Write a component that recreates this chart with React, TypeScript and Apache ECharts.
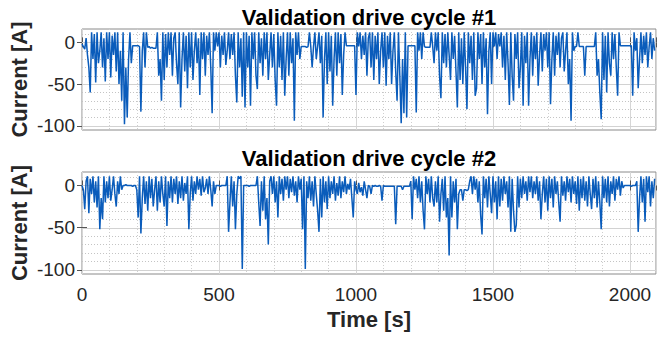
import React, { useEffect, useRef } from "react";
import * as echarts from "echarts";

// Sample period of the hand-read traces (seconds between samples)
const SAMPLE_PERIOD_S = 5;

// Validation drive cycle #1 current [A], one value every 5 s from t = 0
const current1 = [
  -2, -5, -8, 5, -15, -30, -60, 12, -20, 10, -48, 12, -25, -10, 12, -30, 5, -47, 12, -20,
  12, -42, 8, -15, 12, -35, 12, -50, -10, -70, 12, -98, -30, -90, -20, 12, -25, -4, -4, -4,
  -4, -4, -5, -83, -10, 12, -30, 12, -6, -5, -7, -6, -7, -7, -7, 12, -40, -20, -70, 12,
  -45, 10, -30, 12, -15, 12, -40, 5, 12, -25, -50, 12, -78, -20, 12, -35, 8, -55, 12, -30,
  12, -45, -10, 12, -25, 5, -63, 12, -20, 12, -40, 8, -15, 12, -30, -85, 12, -10, 12, -5,
  12, -30, 8, -15, 12, -27, -10, 12, -20, 10, -15, 12, -40, -72, 12, -30, 5, -65, 12, -78,
  12, -30, 8, -76, 12, -20, 12, -40, -56, 12, -25, 5, -40, 12, -20, 12, -45, -15, 12, -30,
  10, -45, -76, 12, -30, 8, -45, 12, -64, -20, 12, -40, 12, -25, 5, -94, 12, -15, 12, -20,
  -5, -5, -5, -5, -6, -5, 12, -5, -30, -5, 12, -20, -5, 12, -25, 8, -90, -20, 12, -50,
  12, -35, 8, -76, -20, 12, -40, 12, -25, 10, -63, -15, 12, -4, -4, -4, -4, -4, -4, -4,
  -63, 12, -5, 12, -20, 8, -15, 12, -40, 5, 12, -30, 12, -45, 8, -20, 12, -50, -10, 12,
  -30, 12, -52, 8, -20, 12, -50, -10, 12, -35, -70, 12, -40, -97, -20, -85, 12, -90, -4, -4,
  -4, -4, -4, -4, -84, 12, -10, 12, -20, 12, -5, -6, -6, -6, -6, 12, -5, -25, 12, -10,
  12, -40, -67, 12, -25, 10, -30, 12, -15, -45, 12, -20, 8, -35, -78, 12, -45, 5, -50, 12,
  -30, -80, 12, -25, 8, -45, 12, -64, -55, 12, -20, 10, -50, 12, -30, 5, -86, -10, 12, -50,
  12, -5, 12, -20, 10, -5, 12, -30, 8, -45, 12, -25, -75, 12, -40, -70, 10, -20, 12, -55,
  -30, 12, -76, 8, -25, 12, -76, -20, 12, -40, 8, -20, 12, -52, -15, 12, -35, 10, -10, 12,
  -30, 12, -74, -20, 12, -40, 8, -15, 12, -30, 5, 12, -35, -10, 12, -50, -20, -94, 12, -10,
  -5, -5, 12, -5, -5, -5, -5, -40, -5, -5, -5, -5, -5, -5, -5, 12, -40, -20, -60, -92,
  12, -45, 8, -60, 12, -25, -40, 12, -20, 10, -30, -64, 12, -4, -4, -4, -4, -4, -4, -4,
  -4, -4, -64, 12, -10, 5, -55, -20, 12, -25, 8, -15, 12, -30, -5, 12, -20, 5, -10,
];

// Validation drive cycle #2 current [A], one value every 5 s from t = 0
const current2 = [
  0, -5, -28, 5, 11, -33, 8, -10, 11, -20, 5, -26, 11, -52, -15, -40, 11, -20, 5, -15,
  11, -18, -5, 11, -10, -25, 5, -10, 11, -5, 0, 0, 1, 0, 0, 0, 0, -1, 0, 0,
  -5, -38, 11, -57, -15, 11, -22, 5, -30, 11, -15, 8, -25, -5, 11, -30, 5, -20, 11, -10,
  -25, 11, -48, 5, -15, 11, -20, 8, -10, 11, -22, 5, -15, 11, -18, 3, -10, 11, -52, -10,
  11, -18, 5, -10, 11, -5, 8, -12, 11, -8, -3, 8, -10, 11, -5, -25, 5, -10, 0, 0,
  0, -1, 0, 0, 0, 0, 11, -55, -20, 11, -25, 5, -52, -10, 11, 8, 11, -99, 0, 0,
  0, 0, -1, 0, 0, 0, 0, 0, 11, -20, -48, 5, -30, 11, -40, -15, -70, 5, 11, -10,
  11, -20, 5, -38, 11, -10, 8, -18, 11, -5, 11, -15, 8, -8, 11, -12, 5, -20, 11, -5,
  8, -52, 11, -99, 5, -15, 11, -18, 5, -25, 11, -10, -30, -55, 8, -38, 11, -20, 5, -28,
  11, -15, 5, -10, 11, -18, 3, -12, 11, -15, 5, -8, 11, -10, 2, -5, 8, -15, -38, 5,
  -5, -10, 3, -8, -2, -12, 5, -5, -15, 0, -1, -10, 0, -1, 0, -1, -1, 0, -1, -18,
  0, -1, -1, -1, -1, -1, -1, -1, -1, -46, -1, -1, -1, -1, -5, -1, -1, -1, -1, -1,
  5, -40, 11, -5, 8, -15, 11, -20, 5, -30, -52, 11, -10, 8, -20, 11, -15, -25, 5, -20,
  11, -43, -10, 8, -30, 11, -38, -15, -83, 11, -38, 5, -20, 8, -52, -10, -5, -5, -18, -5,
  -5, -6, -5, 5, 11, -10, 11, -5, 8, -20, 5, -35, -58, 11, -15, 8, -26, 11, -10, -33,
  11, -20, 5, -40, 11, -25, 8, -18, 11, -10, 5, -26, 11, -55, 8, -30, -55, -47, 11, -26,
  8, -15, 11, -10, 5, -18, 11, -8, 11, -15, 5, -10, 11, -18, 5, -40, -10, 11, -20, 8,
  -30, 11, -15, 8, -26, 11, -10, 5, -20, -43, 11, -12, 5, -18, 11, -8, 8, -20, 11, -10,
  5, -22, 11, -30, 8, -15, 11, -18, 5, -25, 11, -10, -28, 8, -15, 11, -26, 5, -20, -52,
  11, -15, 8, -20, 11, -25, 5, -10, 11, -18, 8, -5, 11, -12, 5, -3, 0, 0, 0, 0,
  0, -1, 0, 0, 0, 5, -55, -15, 11, -20, 8, -43, 11, -8, 11, -25, 5, -15, 8,
];

const titles = ["Validation drive cycle #1", "Validation drive cycle #2"];
const yLabel = "Current [A]";
const xLabel = "Time [s]";
const yTickValues = [0, -50, -100];
const yGridValues = [10, 0, -10, -20, -30, -40, -50, -60, -70, -80, -90, -100];
const yMajorGrid = [0, -50, -100];
const X_MIN = 0;
const X_MAX = 2095;
const X_INTERVAL = 500;
const Y_MIN = -105;
const Y_MAX = 16;

const FONT = "'Liberation Sans', Arial, Helvetica, sans-serif";
const LINE_COLOR = "#0a5cbb";
const TEXT_COLOR = "#262626";

const GRIDS = [
  { left: 82, top: 29, width: 574, height: 101 },
  { left: 82, top: 172, width: 574, height: 102 },
];

export default function App() {
  const ref = useRef<HTMLDivElement>(null);

  useEffect(() => {
    if (!ref.current) return;
    const chart = echarts.init(ref.current, null, { renderer: "svg" });

    const series: any[] = [];
    const xAxes: any[] = [];
    const yAxes: any[] = [];
    const traces = [current1, current2];

    GRIDS.forEach((g, i) => {
      xAxes.push({
        type: "value",
        gridIndex: i,
        min: X_MIN,
        max: X_MAX,
        interval: X_INTERVAL,
        position: "bottom",
        axisLine: { show: false },
        axisTick: { show: true, inside: true, length: 5, lineStyle: { color: "#555" } },
        axisLabel: {
          show: i === 1,
          fontSize: 19,
          color: TEXT_COLOR,
          fontFamily: FONT,
          margin: 11,
          showMaxLabel: false,
          formatter: (v: number) => String(v),
        },
        splitLine: { show: true, lineStyle: { color: "#d6d6d6", width: 1 } },
        minorTick: { show: false, splitNumber: 5 },
        minorSplitLine: { show: true, lineStyle: { color: "#cfcfcf", width: 1, type: [1, 2] } },
      });
      xAxes.push({
        type: "value",
        gridIndex: i,
        min: X_MIN,
        max: X_MAX,
        interval: X_INTERVAL,
        position: "top",
        axisLine: { show: false },
        axisTick: { show: true, inside: true, length: 5, lineStyle: { color: "#555" } },
        axisLabel: { show: false },
        splitLine: { show: false },
      });
      yAxes.push({
        type: "value",
        gridIndex: i,
        min: Y_MIN,
        max: Y_MAX,
        position: "left",
        axisLine: { show: false },
        axisTick: {
          show: true,
          inside: true,
          length: 5,
          customValues: yTickValues,
          lineStyle: { color: "#555" },
        },
        axisLabel: {
          show: true,
          customValues: yTickValues,
          fontSize: 19,
          color: TEXT_COLOR,
          fontFamily: FONT,
          margin: 7,
          formatter: (v: number) => String(v),
        },
        splitLine: { show: false },
      });
      yAxes.push({
        type: "value",
        gridIndex: i,
        min: Y_MIN,
        max: Y_MAX,
        position: "right",
        axisLine: { show: false },
        axisTick: {
          show: true,
          inside: true,
          length: 5,
          customValues: yTickValues,
          lineStyle: { color: "#555" },
        },
        axisLabel: { show: false, customValues: yTickValues },
        splitLine: { show: false },
      });

      series.push({
        type: "custom",
        xAxisIndex: i * 2,
        yAxisIndex: i * 2,
        z: 1,
        silent: true,
        data: yGridValues.map((v) => [X_MIN, v]),
        renderItem: (params: any, api: any) => {
          const cs = params.coordSys;
          const v = api.value(1);
          const y = Math.round(api.coord([X_MIN, v])[1]) + 0.5;
          const major = yMajorGrid.indexOf(v) >= 0;
          return {
            type: "line",
            shape: { x1: cs.x, y1: y, x2: cs.x + cs.width, y2: y },
            style: major
              ? { stroke: "#d2d2d2", lineWidth: 1 }
              : { stroke: "#c4c4c4", lineWidth: 1, lineDash: [1, 2] },
          };
        },
      });

      series.push({
        type: "line",
        xAxisIndex: i * 2,
        yAxisIndex: i * 2,
        z: 3,
        showSymbol: false,
        symbol: "none",
        lineStyle: { color: LINE_COLOR, width: 1.5 },
        data: traces[i].map((v, k) => [k * SAMPLE_PERIOD_S, v]),
      });
    });

    const graphic: any[] = [];
    GRIDS.forEach((g, i) => {
      graphic.push({
        type: "text",
        x: g.left + g.width / 2,
        y: i === 0 ? 17 : 158,
        style: {
          text: titles[i],
          font: `bold 22px ${FONT}`,
          fill: "#000",
          textAlign: "center",
          textVerticalAlign: "middle",
        },
      });
      graphic.push({
        type: "text",
        x: 19,
        y: g.top + g.height / 2,
        rotation: Math.PI / 2,
        style: {
          text: yLabel,
          font: `bold 22px ${FONT}`,
          fill: TEXT_COLOR,
          textAlign: "center",
          textVerticalAlign: "middle",
        },
      });
    });
    graphic.push({
      type: "text",
      x: GRIDS[1].left + GRIDS[1].width / 2,
      y: 319,
      style: {
        text: xLabel,
        font: `bold 22px ${FONT}`,
        fill: TEXT_COLOR,
        textAlign: "center",
        textVerticalAlign: "middle",
      },
    });

    chart.setOption({
      animation: false,
      backgroundColor: "#ffffff",
      grid: GRIDS.map((g) => ({
        ...g,
        show: true,
        backgroundColor: "#ffffff",
        borderColor: "#8a8a8a",
        borderWidth: 1,
        containLabel: false,
      })),
      xAxis: xAxes,
      yAxis: yAxes,
      series,
      graphic,
    });

    return () => chart.dispose();
  }, []);

  return (
    <div
      ref={ref}
      style={{ width: 657, height: 338, position: "absolute", left: 0, top: 0, background: "#fff" }}
    />
  );
}
